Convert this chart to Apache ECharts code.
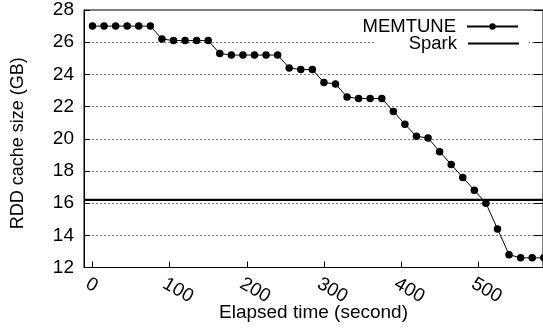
<!DOCTYPE html>
<html>
<head>
<meta charset="utf-8">
<script src="https://cdn.jsdelivr.net/npm/echarts@6/dist/echarts.min.js"></script>
<style>
  html, body { margin: 0; padding: 0; background: #fff; }
  #chart { width: 543px; height: 331px; }
</style>
</head>
<body>
<div id="chart"></div>
<script>
// ---- data ----
const times = [0, 15, 30, 45, 60, 75, 90, 105, 120, 135, 150, 165, 180, 195, 210, 225, 240, 255, 270, 285,
               300, 315, 330, 345, 360, 375, 390, 405, 420, 435, 450, 465, 480, 495, 510, 525, 540, 555, 570, 585];
const memtune = [27, 27, 27, 27, 27, 27, 26.2, 26.1, 26.1, 26.1, 26.1, 25.3, 25.2, 25.2, 25.2, 25.2, 25.2, 24.4, 24.3, 24.3,
                 23.5, 23.4, 22.6, 22.5, 22.5, 22.5, 21.7, 20.9, 20.15, 20.05, 19.2, 18.4, 17.6, 16.8, 16.0, 14.4, 12.8, 12.6, 12.6, 12.6];
const sparkValue = 16.2;
const xTicks = [0, 100, 200, 300, 400, 500];
const yMin = 12, yMax = 28, yStep = 2;
const xMin = -11, xMax = 584;
const seriesNames = ['MEMTUNE', 'Spark'];
const xName = 'Elapsed time (second)';
const yName = 'RDD cache size (GB)';

const labelShift = 7;
const FONT = '"Liberation Sans", Arial, Helvetica, sans-serif';

const chart = echarts.init(document.getElementById('chart'), null, { renderer: 'canvas' });
chart.setOption({
  animation: false,
  backgroundColor: '#fff',
  textStyle: { fontFamily: FONT, color: '#000' },
  grid: { left: 84, right: 0, top: 10, bottom: 63.5, show: true, borderColor: '#000', borderWidth: 1, backgroundColor: 'transparent' },
  legend: [
    {
      data: [seriesNames[0]], orient: 'vertical', align: 'right', right: 24, top: 17, padding: 0,
      itemWidth: 51, itemHeight: 8,
      textStyle: { fontSize: 18.5, color: '#000', fontFamily: FONT, padding: [0, 6, 0, 0] }
    },
    {
      data: [{ name: seriesNames[1], icon: 'rect' }], orient: 'vertical', align: 'right', right: 14, top: 32, padding: [2, 10, 2, 33],
      backgroundColor: '#fff',
      itemWidth: 51, itemHeight: 2.2,
      textStyle: { fontSize: 18.5, color: '#000', fontFamily: FONT, padding: [0, 6, 0, 0] }
    }
  ],
  xAxis: [
    {
      type: 'value', min: xMin, max: xMax, position: 'bottom',
      name: xName, nameLocation: 'middle', nameGap: 36,
      nameTextStyle: { fontSize: 19, color: '#000', fontFamily: FONT },
      axisLine: { show: true, onZero: false, lineStyle: { color: '#000', width: 1 } },
      axisTick: { show: true, inside: true, length: 6, customValues: xTicks, lineStyle: { color: '#000' } },
      axisLabel: { show: false },
      splitLine: { show: false }
    },
    {
      type: 'value', min: xMin + labelShift, max: xMax + labelShift, position: 'bottom',
      axisLine: { show: false, onZero: false }, axisTick: { show: false }, splitLine: { show: false },
      axisLabel: { show: true, rotate: -30, margin: 15, fontSize: 19, color: '#000', fontFamily: FONT, customValues: xTicks }
    }
  ],
  yAxis: [
    {
      type: 'value', min: yMin, max: yMax, interval: yStep, position: 'left',
      name: yName, nameLocation: 'middle', nameGap: 57,
      nameTextStyle: { fontSize: 18, color: '#000', fontFamily: FONT, padding: [0, 9, 0, 0] },
      axisLine: { show: true, onZero: false, lineStyle: { color: '#000', width: 1 } },
      axisTick: { show: true, inside: true, length: 6, lineStyle: { color: '#000' } },
      axisLabel: { show: true, margin: 10, fontSize: 19, color: '#000', fontFamily: FONT },
      splitLine: { show: true, lineStyle: { color: '#777', width: 1, type: [2, 2] } }
    },
    {
      type: 'value', min: yMin, max: yMax, interval: yStep, position: 'right',
      axisLine: { show: true, onZero: false, lineStyle: { color: '#000', width: 1 } },
      axisTick: { show: true, inside: true, length: 9, lineStyle: { color: '#000' } },
      axisLabel: { show: false },
      splitLine: { show: false }
    }
  ],
  series: [
    {
      name: seriesNames[0], type: 'line', xAxisIndex: 0, yAxisIndex: 0,
      data: times.map((t, i) => [t, memtune[i]]),
      clip: false,
      symbol: 'circle', symbolSize: 7.5,
      itemStyle: { color: '#000' },
      lineStyle: { color: '#000', width: 1 },
      z: 3
    },
    {
      name: seriesNames[1], type: 'line', xAxisIndex: 0, yAxisIndex: 0,
      data: [[xMin, sparkValue], [xMax, sparkValue]],
      symbol: 'none',
      itemStyle: { color: '#000' },
      lineStyle: { color: '#000', width: 2.2 },
      z: 2
    }
  ]
});
</script>
</body>
</html>
